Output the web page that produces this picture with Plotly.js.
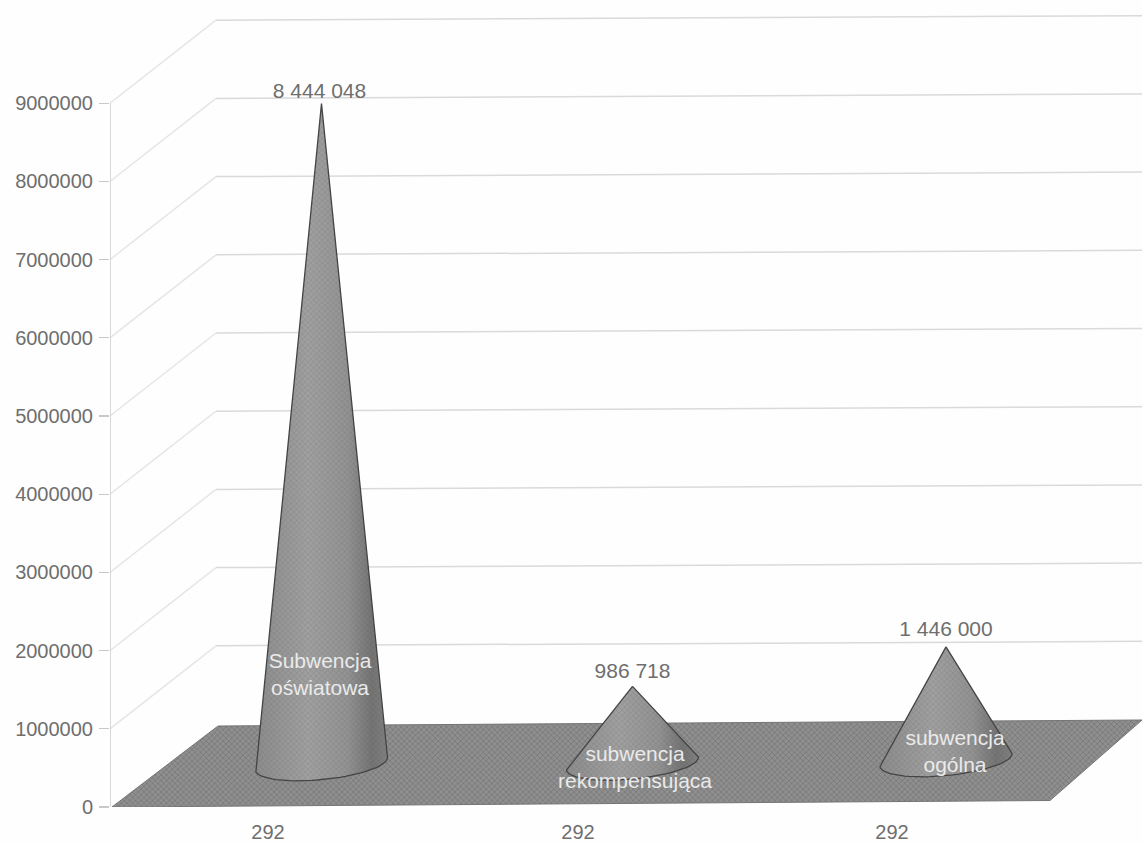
<!DOCTYPE html>
<html><head><meta charset="utf-8">
<script src="https://cdn.plot.ly/plotly-3.0.1.min.js"></script>
<style>html,body{margin:0;padding:0;background:#fff}</style></head>
<body><div id="chart" style="width:1142px;height:844px"></div>
<script>
const categories = ["Subwencja<br>oświatowa", "subwencja<br>rekompensująca", "subwencja<br>ogólna"];
const values = [8444048, 986718, 1446000];
const valueLabels = ["8 444 048", "986 718", "1 446 000"];
const xLabels = ["292", "292", "292"];
const yTicks = [0, 1000000, 2000000, 3000000, 4000000, 5000000, 6000000, 7000000, 8000000, 9000000];

// geometry of the fake 3D projection
const W = 1142, PXPER = 78.2 / 1e6;         // pixels per unit
const px = p => p / PXPER;                  // pixel length -> value units
const xFront = 110, xBack = 216, depth = px(83), drift = px(4.5) / 924;
const centers = [321.5, 632.5, 946];
const bases = [px(43), px(43.5), px(47)];
const tickX = [268, 578, 892];
const rx = 66, tiltY = px(6.5), ry = px(15.5);
const labelGap = [11, 14, 16];

const traces = [];
// floor
traces.push({x:[112,1050,W,218,112], y:[0,px(6.5),px(87),px(81),0], mode:'lines', fill:'toself',
  fillcolor:'#858585', line:{color:'#757575',width:1},
  fillpattern:{shape:'x',fgcolor:'#737373',bgcolor:'#8f8f8f',size:4,solidity:0.3,fillmode:'replace'},
  hoverinfo:'skip'});
// wall grid lines
yTicks.slice(1).forEach(v => {
  traces.push({x:[xFront,xBack], y:[v,v+depth], mode:'lines', line:{color:'#e6e6e6',width:1.5}, hoverinfo:'skip'});
  traces.push({x:[xBack,W], y:[v+depth,v+depth+drift*(W-xBack)], mode:'lines', line:{color:'#dadada',width:1.5}, hoverinfo:'skip'});
});
// vertical axis line
traces.push({x:[xFront,xFront], y:[0,yTicks[yTicks.length-1]], mode:'lines', line:{color:'#c8c8c8',width:1.4}, hoverinfo:'skip'});

// cones
values.forEach((v,i) => {
  const xs=[centers[i]], ys=[bases[i]+v];
  for (let k=0;k<=36;k++){ const t=Math.PI*k/36;
    xs.push(centers[i]-rx*Math.cos(t)+1.5*Math.sin(t));
    ys.push(bases[i]-tiltY*Math.cos(t)-ry*Math.sin(t)); }
  xs.push(centers[i]); ys.push(bases[i]+v);
  traces.push({x:xs,y:ys,mode:'lines',fill:'toself',line:{color:'#444444',width:1.3},
    fillgradient:{type:'horizontal',colorscale:[[0,'#8c8c8c'],[0.4,'#a0a0a0'],[0.7,'#929292'],[0.88,'#747474'],[1,'#808080']]},
    hoverinfo:'skip'});
  traces.push({x:xs,y:ys,mode:'lines',fill:'toself',line:{color:'rgba(0,0,0,0)',width:0},fillcolor:'rgba(0,0,0,0)',
    fillpattern:{shape:'x',fgcolor:'rgba(70,70,70,0.2)',bgcolor:'rgba(0,0,0,0)',size:4,solidity:0.3},hoverinfo:'skip'});
});
// value labels
traces.push({x:centers.map((c,i)=>c-(i===0?2:0)), y:values.map((v,i)=>v+bases[i]+px(labelGap[i])), text:valueLabels,
  mode:'text', textposition:'middle center', textfont:{family:'Liberation Sans, Arial, sans-serif',size:21,color:'#6e6e6e'}, hoverinfo:'skip'});
// category labels inside cones
const catX=[320,635,955], catY=[807-676,807-769,807-753];
traces.push({x:catX, y:catY.map(px), text:categories, mode:'text', textposition:'middle center',
  textfont:{family:'Liberation Sans, Arial, sans-serif',size:21,color:'#eaeaea'}, hoverinfo:'skip'});

const layout = {
  width:1142,height:844,margin:{l:110,r:0,t:0,b:37},showlegend:false,
  paper_bgcolor:'#fefefe',plot_bgcolor:'#fefefe',
  font:{family:'Liberation Sans, Arial, sans-serif',color:'#6e6e6e'},
  xaxis:{range:[xFront,W],tickmode:'array',tickvals:tickX,ticktext:xLabels,showgrid:false,zeroline:false,showline:false,
    ticks:'',ticklabelstandoff:11,tickfont:{size:20,color:'#6e6e6e'}},
  yaxis:{range:[0,807/PXPER],tickmode:'array',tickvals:yTicks,ticktext:yTicks.map(String),showgrid:false,zeroline:false,showline:false,
    ticks:'outside',ticklen:10,tickcolor:'#c8c8c8',tickwidth:1.4,ticklabelstandoff:2,tickfont:{size:20,color:'#6e6e6e'}}
};
Plotly.newPlot('chart',traces,layout,{displayModeBar:false,staticPlot:true});
</script></body></html>
